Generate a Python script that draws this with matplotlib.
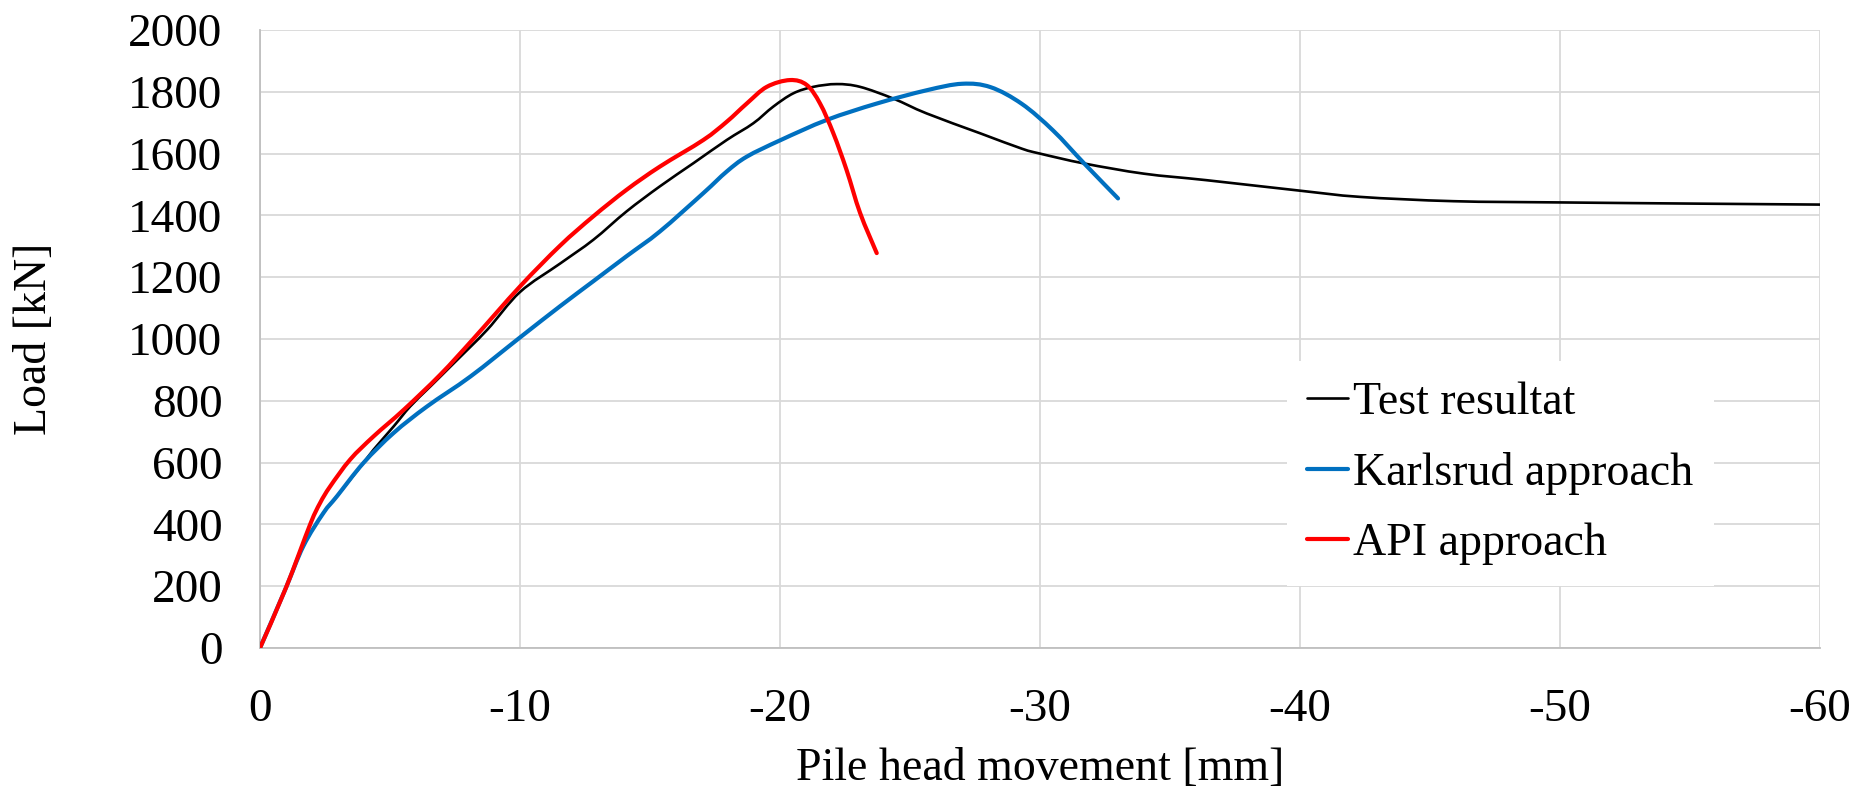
import matplotlib
matplotlib.use("Agg")
import matplotlib.pyplot as plt
import matplotlib.ticker as mticker
from matplotlib.path import Path
from matplotlib.patches import PathPatch
from matplotlib.lines import Line2D

# ---------------------------------------------------------------------------
# Data (pile head movement [mm], load [kN])
# ---------------------------------------------------------------------------
test_x = [0, -0.95, -1.67, -2.44, -2.96, -3.98, -4.37, -5.14, -5.78, -6.56,
          -7.46, -8.74, -10.0, -11.54, -12.82, -14.1, -15.38, -16.67,
          -17.95, -18.97, -19.74, -20.51, -21.28, -22.18, -23.08, -24.36,
          -25.64, -27.69, -29.3, -30.0, -31.7, -34.0, -36.4, -40.0, -42.3,
          -45.9, -50.0, -55.4, -60.0]
test_y = [0, 185, 330, 437, 491, 599, 642, 717, 782, 847,
          922, 1030, 1152, 1244, 1321, 1413, 1494, 1569,
          1644, 1698, 1752, 1795, 1816, 1825, 1816, 1778,
          1730, 1666, 1616, 1600, 1568, 1535, 1514, 1480, 1460,
          1446, 1442, 1438, 1435]

karl_x = [0, -0.95, -1.67, -2.44, -2.96, -3.98, -5.14, -6.43, -8.1, -10.0,
          -11.54, -12.82, -14.1, -15.38, -17.05, -17.95, -18.72, -20.03,
          -21.8, -23.72, -25.64, -27.0, -28.1, -29.3, -30.5, -31.7, -33.0]
karl_y = [0, 185, 330, 437, 491, 599, 696, 782, 879, 1005,
          1106, 1187, 1268, 1348, 1472, 1542, 1590, 1644,
          1709, 1762, 1805, 1826, 1815, 1761, 1675, 1568, 1455]

api_x = [0, -1.0, -1.93, -2.31, -2.7, -3.47, -4.37, -5.53, -6.94, -8.2,
         -10.0, -11.54, -12.82, -14.1, -15.38, -17.05, -17.95, -18.72,
         -19.49, -20.38, -21.03, -21.54, -22.05, -22.56, -23.08, -23.72]
api_y = [0, 195, 400, 469, 523, 610, 685, 771, 885, 1000,
         1170, 1302, 1397, 1483, 1558, 1644, 1703, 1762,
         1816, 1838, 1822, 1762, 1666, 1547, 1408, 1278]

labels = ["Test resultat", "Karlsrud approach", "API approach"]
colors = ["black", "#0070C0", "#FF0000"]


def smooth_path(xs, ys):
    # Excel-style "smoothed line": cubic Bezier through the points
    pts = list(zip(xs, ys))
    verts = [pts[0]]
    codes = [Path.MOVETO]
    n = len(pts)
    for i in range(n - 1):
        p0 = pts[i - 1] if i > 0 else pts[i]
        p1 = pts[i]
        p2 = pts[i + 1]
        p3 = pts[i + 2] if i + 2 < n else pts[i + 1]
        c1 = (p1[0] + (p2[0] - p0[0]) / 6, p1[1] + (p2[1] - p0[1]) / 6)
        c2 = (p2[0] - (p3[0] - p1[0]) / 6, p2[1] - (p3[1] - p1[1]) / 6)
        verts += [c1, c2, p2]
        codes += [Path.CURVE4] * 3
    return Path(verts, codes)


# ---------------------------------------------------------------------------
# Plot
# ---------------------------------------------------------------------------
plt.rcParams["font.family"] = ["Liberation Serif", "DejaVu Serif"]
plt.rcParams["font.size"] = 33
plt.rcParams["axes.unicode_minus"] = False

fig = plt.figure(figsize=(18.65, 7.94), dpi=100)
ax = fig.add_axes([0.1394, 0.1839, 0.8365, 0.7783])

series = [(test_x, test_y, 1.9), (karl_x, karl_y, 3.0), (api_x, api_y, 3.0)]
handles = []
for (xs, ys, lw), c, lab in zip(series, colors, labels):
    patch = PathPatch(smooth_path(xs, ys), facecolor="none", edgecolor=c,
                      linewidth=lw, joinstyle="round", capstyle="round",
                      zorder=3)
    ax.add_patch(patch)
    handles.append(Line2D([], [], color=c, linewidth=lw, label=lab,
                          solid_capstyle="round"))

ax.set_xlim(0, -60)
ax.set_ylim(0, 2000)
ax.xaxis.set_major_locator(mticker.MultipleLocator(10))
ax.yaxis.set_major_locator(mticker.MultipleLocator(200))
ax.grid(True, color="#d9d9d9", linewidth=1.3)
ax.set_axisbelow(True)

for side in ["top", "right"]:
    ax.spines[side].set_visible(False)
for side in ["left", "bottom"]:
    ax.spines[side].set_color("#bfbfbf")
    ax.spines[side].set_linewidth(1.3)

ax.tick_params(axis="both", length=0, labelsize=34)
ax.tick_params(axis="x", pad=29)
ax.tick_params(axis="y", pad=27)

ax.set_xlabel("Pile head movement [mm]", labelpad=12)
ax.set_ylabel("Load [kN]", labelpad=52)

leg = ax.legend(handles=handles, loc="upper left", bbox_to_anchor=(0.690, 0.545),
                bbox_transform=fig.transFigure, frameon=True, fancybox=False,
                edgecolor="none", facecolor="white", framealpha=1.0,
                handlelength=0.88, handletextpad=0.12, labelspacing=0.6,
                borderpad=0.45, borderaxespad=0)

fig.savefig("out.png", dpi=100)
